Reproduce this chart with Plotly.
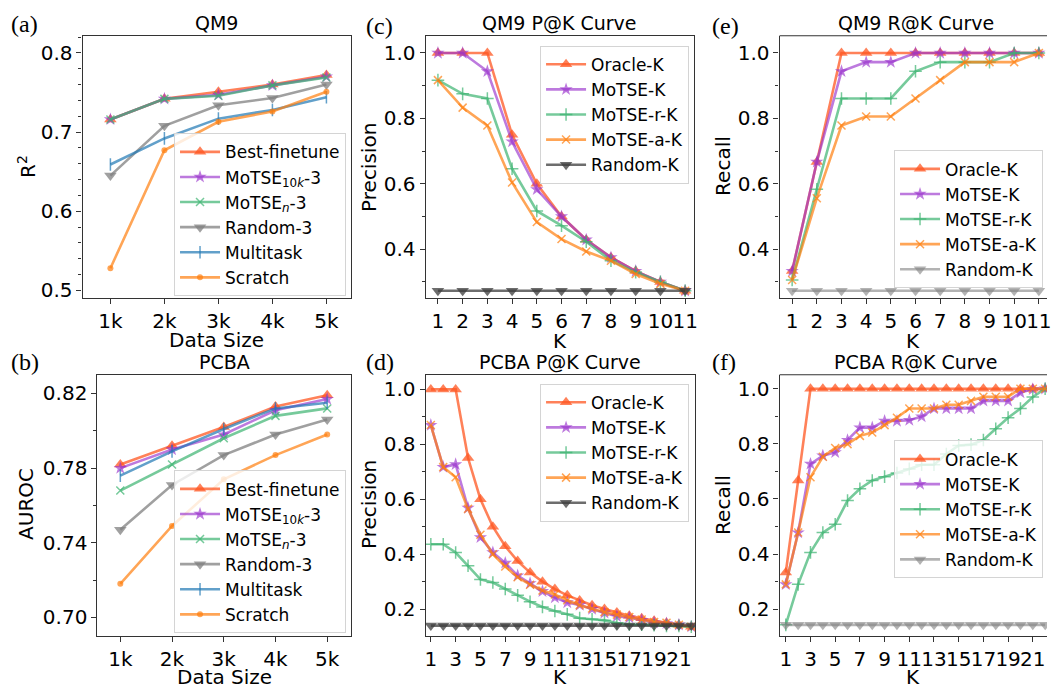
import plotly.graph_objects as go

# ---------------- data ----------------
sizes = ["1k", "2k", "3k", "4k", "5k"]

qm9_best = [0.716, 0.742, 0.751, 0.760, 0.772]
qm9_motse10k = [0.716, 0.742, 0.747, 0.759, 0.770]
qm9_motsen = [0.716, 0.742, 0.746, 0.759, 0.769]
qm9_random = [0.645, 0.708, 0.734, 0.743, 0.760]
qm9_multitask = [0.659, 0.692, 0.717, 0.728, 0.744]
qm9_scratch = [0.528, 0.677, 0.713, 0.726, 0.751]

pcba_best = [0.782, 0.792, 0.802, 0.813, 0.819]
pcba_motse10k = [0.780, 0.790, 0.798, 0.811, 0.817]
pcba_motsen = [0.768, 0.782, 0.796, 0.808, 0.812]
pcba_random = [0.747, 0.771, 0.787, 0.798, 0.806]
pcba_multitask = [0.776, 0.789, 0.801, 0.812, 0.815]
pcba_scratch = [0.718, 0.749, 0.774, 0.787, 0.798]

k_qm9 = [1, 2, 3, 4, 5, 6, 7, 8, 9, 10, 11]
qm9_p_oracle = [1.0, 1.0, 1.0, 0.750, 0.600, 0.500, 0.429, 0.375, 0.333, 0.300, 0.273]
qm9_p_motse = [1.0, 1.0, 0.944, 0.729, 0.583, 0.500, 0.429, 0.375, 0.333, 0.300, 0.273]
qm9_p_motse_r = [0.917, 0.875, 0.861, 0.646, 0.517, 0.472, 0.423, 0.365, 0.330, 0.300, 0.273]
qm9_p_motse_a = [0.917, 0.833, 0.778, 0.604, 0.483, 0.431, 0.393, 0.365, 0.324, 0.294, 0.273]
qm9_p_random = [0.273, 0.273, 0.273, 0.273, 0.273, 0.273, 0.273, 0.273, 0.273, 0.273, 0.273]

qm9_r_oracle = [0.333, 0.667, 1.0, 1.0, 1.0, 1.0, 1.0, 1.0, 1.0, 1.0, 1.0]
qm9_r_motse = [0.333, 0.667, 0.944, 0.972, 0.972, 1.0, 1.0, 1.0, 1.0, 1.0, 1.0]
qm9_r_motse_r = [0.306, 0.583, 0.861, 0.861, 0.861, 0.944, 0.972, 0.972, 0.972, 1.0, 1.0]
qm9_r_motse_a = [0.306, 0.556, 0.778, 0.806, 0.806, 0.861, 0.917, 0.972, 0.972, 0.972, 1.0]
qm9_r_random = [0.273, 0.273, 0.273, 0.273, 0.273, 0.273, 0.273, 0.273, 0.273, 0.273, 0.273]

k_pcba = [1, 2, 3, 4, 5, 6, 7, 8, 9, 10, 11, 12, 13, 14, 15, 16, 17, 18, 19, 20, 21, 22]
pcba_p_oracle = [1.0, 1.0, 1.0, 0.750, 0.600, 0.500, 0.429, 0.375, 0.333, 0.300, 0.273,
                 0.250, 0.231, 0.214, 0.200, 0.188, 0.176, 0.167, 0.158, 0.150, 0.143, 0.136]
pcba_p_motse = [0.870, 0.717, 0.727, 0.568, 0.461, 0.406, 0.368, 0.322, 0.294, 0.265, 0.242,
                0.224, 0.215, 0.200, 0.186, 0.174, 0.169, 0.160, 0.151, 0.148, 0.143, 0.136]
pcba_p_motse_r = [0.436, 0.436, 0.406, 0.358, 0.308, 0.297, 0.273, 0.250, 0.227, 0.208, 0.193,
                  0.181, 0.167, 0.163, 0.159, 0.149, 0.144, 0.143, 0.141, 0.139, 0.139, 0.136]
pcba_p_motse_a = [0.870, 0.717, 0.680, 0.565, 0.471, 0.400, 0.355, 0.316, 0.289, 0.268, 0.253,
                  0.232, 0.214, 0.202, 0.189, 0.180, 0.171, 0.162, 0.153, 0.150, 0.143, 0.136]
pcba_p_random = [0.140, 0.140, 0.140, 0.140, 0.140, 0.140, 0.140, 0.140, 0.140, 0.140, 0.140,
                 0.140, 0.140, 0.140, 0.140, 0.140, 0.140, 0.140, 0.140, 0.140, 0.140, 0.140]

pcba_r_oracle = [0.333, 0.667, 1.0, 1.0, 1.0, 1.0, 1.0, 1.0, 1.0, 1.0, 1.0,
                 1.0, 1.0, 1.0, 1.0, 1.0, 1.0, 1.0, 1.0, 1.0, 1.0, 1.0]
pcba_r_motse = [0.290, 0.478, 0.727, 0.757, 0.769, 0.813, 0.859, 0.859, 0.883, 0.883, 0.886,
                0.899, 0.928, 0.928, 0.928, 0.928, 0.956, 0.956, 0.956, 0.986, 0.998, 1.0]
pcba_r_motse_r = [0.143, 0.290, 0.406, 0.478, 0.508, 0.594, 0.637, 0.667, 0.681, 0.694, 0.709,
                  0.724, 0.724, 0.763, 0.794, 0.797, 0.814, 0.855, 0.895, 0.928, 0.970, 1.0]
pcba_r_motse_a = [0.290, 0.478, 0.679, 0.753, 0.785, 0.799, 0.829, 0.841, 0.868, 0.895, 0.928,
                  0.928, 0.928, 0.942, 0.942, 0.956, 0.971, 0.971, 0.971, 1.0, 1.0, 1.0]
pcba_r_random = [0.143, 0.143, 0.143, 0.143, 0.143, 0.143, 0.143, 0.143, 0.143, 0.143, 0.143,
                 0.143, 0.143, 0.143, 0.143, 0.143, 0.143, 0.143, 0.143, 0.143, 0.143, 0.143]

# ---------------- styles ----------------
W, H = 1052, 692
FONT = "DejaVu Sans"

def rgba(c, a):
    return "rgba(%d,%d,%d,%.2f)" % (c[0], c[1], c[2], a)

RED = (255, 87, 34)
PURPLE = (153, 50, 204)
GREEN = (60, 179, 113)
GRAY = (128, 128, 128)
DGRAY = (60, 60, 60)
BLUE = (31, 119, 180)
ORANGE = (255, 127, 14)

STY = {
    "oracle": dict(c=RED, a=0.75, sym="triangle-up", size=11, thin=False),
    "motse": dict(c=PURPLE, a=0.65, sym="star", size=10, thin=False),
    "motse_n": dict(c=GREEN, a=0.7, sym="x-thin", size=8, thin=True),
    "motse_r": dict(c=GREEN, a=0.7, sym="cross-thin", size=9, thin=True),
    "motse_a": dict(c=ORANGE, a=0.7, sym="x-thin", size=8, thin=True),
    "random3": dict(c=GRAY, a=0.75, sym="triangle-down", size=11, thin=False),
    "randomk_d": dict(c=DGRAY, a=0.75, sym="triangle-down", size=11, thin=False),
    "randomk_l": dict(c=GRAY, a=0.6, sym="triangle-down", size=11, thin=False),
    "multitask": dict(c=BLUE, a=0.7, sym="line-ns", size=9, thin=True),
    "scratch": dict(c=ORANGE, a=0.7, sym="circle", size=6, thin=False),
}

fig = go.Figure()

def px2x(p):
    return p / W

def px2y(p):
    return 1 - p / H

def add(x, y, name, sty, idx):
    s = STY[sty]
    col = rgba(s["c"], s["a"])
    if s["thin"]:
        marker = dict(symbol=s["sym"], size=s["size"], color=col, line=dict(color=col, width=1.5))
    else:
        marker = dict(symbol=s["sym"], size=s["size"], color=col, line=dict(width=0))
    sfx = "" if idx == 1 else str(idx)
    fig.add_trace(go.Scatter(
        x=x, y=y, name=name, mode="lines+markers",
        line=dict(color=col, width=2.6), marker=marker,
        xaxis="x" + sfx, yaxis="y" + sfx,
        legend="legend" + sfx, legendgroup="g%d_%s" % (idx, name),
    ))

# (a)
add(sizes, qm9_best, "Best-finetune", "oracle", 1)
add(sizes, qm9_motse10k, "MoTSE<sub>10<i>k</i></sub>-3", "motse", 1)
add(sizes, qm9_motsen, "MoTSE<sub><i>n</i></sub>-3", "motse_n", 1)
add(sizes, qm9_random, "Random-3", "random3", 1)
add(sizes, qm9_multitask, "Multitask", "multitask", 1)
add(sizes, qm9_scratch, "Scratch", "scratch", 1)
# (b)
add(sizes, pcba_best, "Best-finetune", "oracle", 2)
add(sizes, pcba_motse10k, "MoTSE<sub>10<i>k</i></sub>-3", "motse", 2)
add(sizes, pcba_motsen, "MoTSE<sub><i>n</i></sub>-3", "motse_n", 2)
add(sizes, pcba_random, "Random-3", "random3", 2)
add(sizes, pcba_multitask, "Multitask", "multitask", 2)
add(sizes, pcba_scratch, "Scratch", "scratch", 2)
# (c)
add(k_qm9, qm9_p_oracle, "Oracle-K", "oracle", 3)
add(k_qm9, qm9_p_motse, "MoTSE-K", "motse", 3)
add(k_qm9, qm9_p_motse_r, "MoTSE-r-K", "motse_r", 3)
add(k_qm9, qm9_p_motse_a, "MoTSE-a-K", "motse_a", 3)
add(k_qm9, qm9_p_random, "Random-K", "randomk_d", 3)
# (d)
add(k_pcba, pcba_p_oracle, "Oracle-K", "oracle", 4)
add(k_pcba, pcba_p_motse, "MoTSE-K", "motse", 4)
add(k_pcba, pcba_p_motse_r, "MoTSE-r-K", "motse_r", 4)
add(k_pcba, pcba_p_motse_a, "MoTSE-a-K", "motse_a", 4)
add(k_pcba, pcba_p_random, "Random-K", "randomk_d", 4)
# (e)
add(k_qm9, qm9_r_oracle, "Oracle-K", "oracle", 5)
add(k_qm9, qm9_r_motse, "MoTSE-K", "motse", 5)
add(k_qm9, qm9_r_motse_r, "MoTSE-r-K", "motse_r", 5)
add(k_qm9, qm9_r_motse_a, "MoTSE-a-K", "motse_a", 5)
add(k_qm9, qm9_r_random, "Random-K", "randomk_l", 5)
# (f)
add(k_pcba, pcba_r_oracle, "Oracle-K", "oracle", 6)
add(k_pcba, pcba_r_motse, "MoTSE-K", "motse", 6)
add(k_pcba, pcba_r_motse_r, "MoTSE-r-K", "motse_r", 6)
add(k_pcba, pcba_r_motse_a, "MoTSE-a-K", "motse_a", 6)
add(k_pcba, pcba_r_random, "Random-K", "randomk_l", 6)

# ---------------- axes ----------------
def base_axis():
    return dict(showline=True, linecolor="#333333", linewidth=1.1,
                ticks="outside", ticklen=5, tickwidth=1.1, tickcolor="#333333",
                showgrid=False, zeroline=False, tickangle=0,
                ticklabeloverflow="allow",
                tickfont=dict(family=FONT, size=20, color="black"))

boxes = {  # left, right, top, bottom (px)
    1: (82, 352, 36, 300),
    2: (97, 352, 377, 640),
    3: (427, 697, 36, 300),
    4: (427, 698, 377, 640),
    5: (783, 1052, 36, 300),
    6: (783, 1052, 377, 640),
}
xr = {1: [-0.516, 4.455], 2: [-0.442, 4.46], 3: [0.5, 11.36], 4: [0.575, 22.3],
      5: [0.489, 11.33], 6: [0.493, 22.15]}
yr = {1: [0.49, 0.8217], 2: [0.6899, 0.830], 3: [0.25, 1.0526], 4: [0.101, 1.053],
      5: [0.25, 1.0526], 6: [0.1015, 1.0505]}
ytv = {1: [0.5, 0.6, 0.7, 0.8], 2: [0.70, 0.74, 0.78, 0.82], 3: [0.4, 0.6, 0.8, 1.0],
       4: [0.2, 0.4, 0.6, 0.8, 1.0], 5: [0.4, 0.6, 0.8, 1.0], 6: [0.2, 0.4, 0.6, 0.8, 1.0]}
ytt = {1: ["0.5", "0.6", "0.7", "0.8"], 2: ["0.70", "0.74", "0.78", "0.82"],
       3: ["0.4", "0.6", "0.8", "1.0"], 4: ["0.2", "0.4", "0.6", "0.8", "1.0"],
       5: ["0.4", "0.6", "0.8", "1.0"], 6: ["0.2", "0.4", "0.6", "0.8", "1.0"]}
ymin = {1: 0.02, 2: 0.02, 3: 0.1, 4: 0.1, 5: 0.1, 6: 0.1}
xtv = {3: k_qm9, 4: k_pcba[::2], 5: k_qm9, 6: k_pcba[::2]}

layout = dict(width=W, height=H, margin=dict(l=0, r=0, t=0, b=0),
              paper_bgcolor="white", plot_bgcolor="white", showlegend=True)

for i in range(1, 7):
    l, r, t, b = boxes[i]
    sfx = "" if i == 1 else str(i)
    xa = base_axis()
    xa.update(domain=[px2x(l), min(1.0, px2x(r))], range=xr[i], anchor="y" + sfx,
              mirror=True if i not in (5, 6) else False)
    if i in (1, 2):
        xa.update(type="category")
    else:
        xa.update(tickmode="array", tickvals=xtv[i], ticktext=[str(v) for v in xtv[i]])
    ya = base_axis()
    ya.update(domain=[px2y(b), px2y(t)], range=yr[i], anchor="x" + sfx,
              mirror=True if i not in (5, 6) else False,
              tickmode="array", tickvals=ytv[i], ticktext=ytt[i],
              minor=dict(dtick=ymin[i], ticks="outside", ticklen=3, tickwidth=1,
                         tickcolor="#333333", showgrid=False))
    layout["xaxis" + sfx] = xa
    layout["yaxis" + sfx] = ya

# top spine for (e),(f) (right spine falls outside the picture)
shapes = []
for i in (5, 6):
    l, r, t, b = boxes[i]
    shapes.append(dict(type="line", xref="paper", yref="paper", x0=px2x(l), x1=1.0,
                       y0=px2y(t), y1=px2y(t), line=dict(color="#333333", width=1.1)))
layout["shapes"] = shapes

# ---------------- legends ----------------
def legend(x, y, xa, ya):
    return dict(x=px2x(x), y=px2y(y), xanchor=xa, yanchor=ya, xref="paper", yref="paper",
                bgcolor="rgba(255,255,255,0.8)", bordercolor="#d4d4d4", borderwidth=1,
                font=dict(family=FONT, size=17, color="black"), itemwidth=40,
                traceorder="grouped", tracegroupgap=0)

layout["legend"] = legend(347, 298, "right", "bottom")
layout["legend2"] = legend(347, 637, "right", "bottom")
layout["legend3"] = legend(692, 46, "right", "top")
layout["legend4"] = legend(692, 386, "right", "top")
layout["legend5"] = legend(1048, 290, "right", "bottom")
layout["legend6"] = legend(1048, 443, "right", "top")

# ---------------- annotations ----------------
ann = []
def text(x, y, s, size=19, family=FONT, angle=0, xanchor="center"):
    ann.append(dict(x=px2x(x), y=px2y(y), xref="paper", yref="paper", text=s,
                    showarrow=False, xanchor=xanchor, yanchor="middle", textangle=angle,
                    font=dict(family=family, size=size, color="black")))

titles = {1: "QM9", 2: "PCBA", 3: "QM9 P@K Curve", 4: "PCBA P@K Curve",
          5: "QM9 R@K Curve", 6: "PCBA R@K Curve"}
title_y = {1: 23, 2: 364, 3: 23, 4: 364, 5: 23, 6: 364}
title_x = {1: 217, 2: 225, 3: 562, 4: 562, 5: 920, 6: 920}
for i in range(1, 7):
    text(title_x[i], title_y[i], titles[i], size=19)

xlab = {1: "Data Size", 2: "Data Size", 3: "K", 4: "K", 5: "K", 6: "K"}
xlab_x = {1: 217, 2: 225, 3: 562, 4: 562, 5: 917, 6: 917}
xlab_y = {1: 342, 2: 681, 3: 343, 4: 681, 5: 343, 6: 681}
for i in range(1, 7):
    text(xlab_x[i], xlab_y[i], xlab[i], size=20)

ylab = {1: "R<sup>2</sup>", 2: "AUROC", 3: "Precision", 4: "Precision", 5: "Recall", 6: "Recall"}
ylab_x = {1: 26, 2: 25, 3: 370, 4: 370, 5: 726, 6: 726}
ylab_y = {1: 167, 2: 507, 3: 168, 4: 507, 5: 167, 6: 508}
for i in range(1, 7):
    text(ylab_x[i], ylab_y[i], ylab[i], size=20, angle=-90)

panels = {1: ("(a)", 8, 24), 2: ("(b)", 8, 364), 3: ("(c)", 365, 26), 4: ("(d)", 365, 364),
          5: ("(e)", 713, 26), 6: ("(f)", 713, 364)}
for i, (s, x, y) in panels.items():
    text(x, y, s, size=24, family="Liberation Serif", xanchor="left")

layout["annotations"] = ann
fig.update_layout(**layout)
fig.write_html("out.html", config={"displayModeBar": False},
               post_script="document.body.style.margin='0';")
